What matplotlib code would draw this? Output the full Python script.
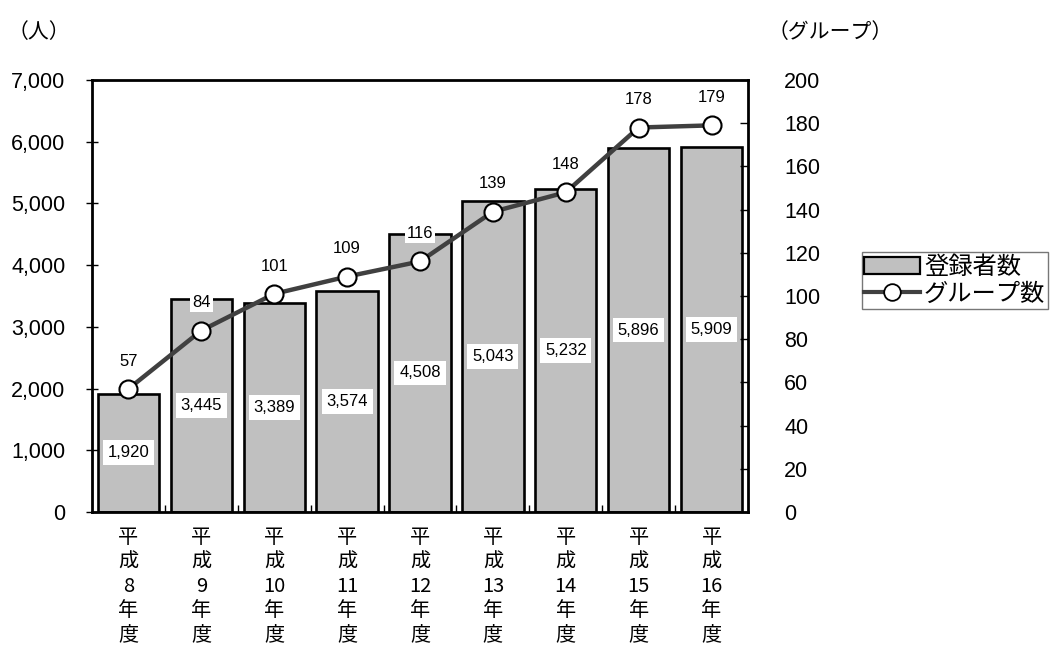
import numpy as np
import matplotlib
matplotlib.use("Agg")
import matplotlib.pyplot as plt
from matplotlib.lines import Line2D
from matplotlib.patches import Patch

plt.rcParams['font.family'] = ['Liberation Sans', 'Noto Sans CJK JP', 'DejaVu Sans']

# fiscal years (Heisei) and values
years = ["8", "9", "10", "11", "12", "13", "14", "15", "16"]
members = [1920, 3445, 3389, 3574, 4508, 5043, 5232, 5896, 5909]
groups = [57, 84, 101, 109, 116, 139, 148, 178, 179]

bar_color = "#c0c0c0"
line_color = "#404040"

fig = plt.figure(figsize=(10.55, 6.55), dpi=100)
ax = fig.add_axes([92 / 1055, 143 / 655, 656 / 1055, 432 / 655])
ax2 = ax.twinx()

x = np.arange(len(years))
bars = ax.bar(x, members, width=0.84, color=bar_color, edgecolor="black",
              linewidth=1.9, zorder=2)
ax.set_xlim(-0.5, len(years) - 0.5)
ax.set_ylim(0, 7000)
ax.set_yticks(np.arange(0, 7001, 1000))
ax.set_yticklabels([f"{v:,}" for v in range(0, 7001, 1000)], fontsize=15.5)

# vertical stacked year labels
ax.set_xticks(x)
ax.set_xticklabels(["平\n成\n" + y + "\n年\n度" for y in years],
                   fontsize=14.5, family=['Noto Sans CJK JP'], linespacing=1.2)
ax.tick_params(axis='x', length=0, pad=11)
ax.set_xticks(np.arange(0.5, len(years) - 1, 1), minor=True)
ax.tick_params(axis='x', which='minor', direction='in', length=5, width=1)
ax.tick_params(axis='y', direction='inout', length=8, width=1, pad=15)

for s in ax.spines.values():
    s.set_linewidth(2)
    s.set_color("black")

for xi, v in zip(x, members):
    ax.text(xi, v / 2, f"{v:,}", ha='center', va='center', fontsize=12,
            bbox=dict(facecolor='white', edgecolor='none', pad=3.5), zorder=3)

ax2.plot(x, groups, color=line_color, linewidth=3.2, marker='o', markersize=13,
         markerfacecolor='white', markeredgecolor='black', markeredgewidth=1.5,
         zorder=4)
ax2.set_ylim(0, 200)
ax2.set_yticks(np.arange(0, 201, 20))
ax2.tick_params(axis='y', direction='in', length=6, width=1, pad=26, labelsize=15.5)
for s in ax2.spines.values():
    s.set_visible(False)

for xi, v in zip(x, groups):
    ax2.annotate(str(v), (xi, v), xytext=(0, 20), textcoords='offset points',
                 ha='center', va='center', fontsize=12,
                 bbox=dict(facecolor='white', edgecolor='none', pad=1.5),
                 zorder=5)

fig.text(8 / 1055, 1 - 32 / 655, "（人）", fontsize=15, va='center', ha='left',
         family=['Noto Sans CJK JP'])
fig.text(768 / 1055, 1 - 32 / 655, "（グループ）", fontsize=15, va='center',
         ha='left', family=['Noto Sans CJK JP'])

handles = [
    Patch(facecolor=bar_color, edgecolor='black', linewidth=1.6),
    Line2D([], [], color=line_color, linewidth=3, marker='o', markersize=12,
           markerfacecolor='white', markeredgecolor='black', markeredgewidth=1.3),
]
leg = fig.legend(handles, ["登録者数", "グループ数"], loc='upper left',
                 bbox_to_anchor=(862 / 1055, 1 - 252 / 655),
                 prop={'family': 'Noto Sans CJK JP', 'size': 17.5},
                 frameon=True, fancybox=False, borderpad=0.1,
                 handlelength=2.3, handletextpad=0.15, labelspacing=0.0,
                 borderaxespad=0)
leg.get_frame().set_edgecolor("#555555")
leg.get_frame().set_linewidth(1)

fig.savefig("out.png", dpi=100)
